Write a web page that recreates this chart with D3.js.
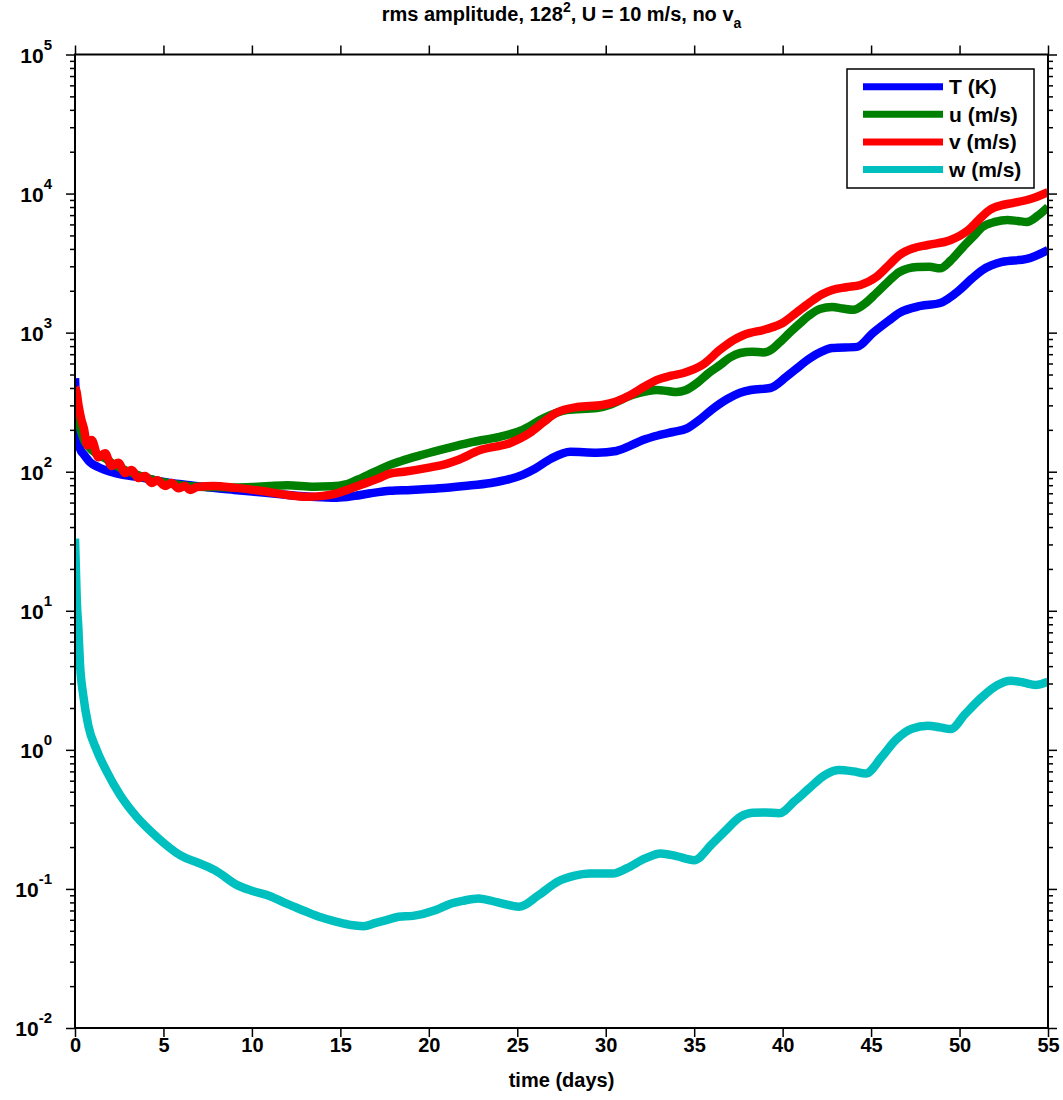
<!DOCTYPE html>
<html><head><meta charset="utf-8">
<script src="https://cdn.jsdelivr.net/npm/d3@7"></script>
<style>
body{margin:0;background:#fff}
text{font-family:"Liberation Sans",Arial,Helvetica,sans-serif;font-weight:bold;fill:#000}
</style>
</head><body>
<svg id="chart" width="1063" height="1100"></svg>
<script>
// ---------------- data ----------------
const timeT = [0,0.05,0.1,0.18,0.3,0.5,0.85,1.3,2.0,2.7,3.5,4.5,5.4,6.5,7.6,9.0,10.0,11.5,12.9,14.0,14.8,15.8,16.7,17.8,19.0,20.6,22.0,23.5,24.5,25.3,26.0,26.9,28.0,29.5,30.6,31.3,32.1,33.0,33.8,34.6,35.3,36.0,36.9,37.6,38.2,39.3,40.2,41.0,41.5,42.2,42.8,44.2,45.1,46.0,46.6,47.8,48.9,50.0,50.7,51.3,52.4,53.8,55.0];
const ampT  = [470,330,230,170,145,133,117,108,100,95,92,87,83,80,77,74,72,69,66.5,65.5,65,67,70,73,74,76,79,83,88,95,105,124,139,137,141,152,169,183,193,205,236,280,335,370,387,400,480,580,650,730,776,790,995,1220,1387,1556,1635,2027,2450,2824,3224,3388,3930];

const timeU = [0,0.1,0.25,0.5,0.8,1.2,1.7,2.2,2.8,3.5,4.3,5.0,6.0,7.0,8.0,9.0,10.0,11.0,12.0,13.5,14.5,15.3,16.0,16.8,17.8,18.4,19.5,20.6,21.5,22.5,24.0,25.3,26.5,27.8,29.5,30.2,31.5,32.3,32.9,33.5,34.0,34.5,35.2,35.8,36.5,37.0,37.6,38.3,38.9,39.4,39.8,40.4,41.0,41.5,42.1,42.8,43.4,44.0,44.6,45.3,46.0,46.6,47.6,48.3,48.9,49.5,50.2,50.8,51.3,52.0,52.7,53.3,53.8,54.4,55.0];
const ampU  = [330,300,220,170,150,135,125,113,103,95,88,84,80,78,77.5,77,77.6,79,80,78,78.5,81,88,98,112,119,131,143,153,164,178,200,243,278,287,302,356,378,387,380,374,385,438,510,590,660,714,730,720,760,843,1000,1173,1330,1480,1530,1490,1460,1600,1928,2350,2730,2965,2980,2900,3300,4130,4950,5750,6250,6460,6350,6250,6900,8000];

const timeV = [0,0.08,0.2,0.35,0.5,0.7,0.94,1.32,1.70,2.07,2.45,2.83,3.2,3.58,3.96,4.33,4.65,5.09,5.46,5.84,6.22,6.5,6.9,7.8,9.1,10.6,12.0,13.1,14.0,14.8,16.1,17.2,17.8,18.6,20.0,21.0,21.6,22.9,24.6,25.7,26.5,27.2,28.4,29.8,30.6,31.4,32.2,32.9,33.7,34.4,35.5,36.5,37.2,37.8,39.1,40.0,40.8,41.5,42.2,42.8,43.6,44.4,45.3,46.0,46.6,47.4,48.2,49.5,50.5,51.1,51.7,52.4,53.0,54.0,55.0];
const ampV  = [400,380,300,240,205,155,169,127,136,110,116,98,103,90,93,83,87,79,83,76,79,74,77.6,79,76.5,72.6,68,66,67,70,80,90,97,100,107,114,121,143,161,190,228,265,292,302,320,356,410,457,490,513,590,760,880,962,1062,1173,1400,1635,1880,2027,2120,2203,2514,3050,3614,4050,4266,4634,5470,6500,7620,8250,8550,9140,10260];

const timeW = [0,0.05,0.1,0.19,0.28,0.47,0.75,1.22,1.79,2.54,3.48,4.62,5.94,7.25,8.0,9.14,10.0,11.0,12.0,12.9,13.8,14.8,15.6,16.3,17.0,17.6,18.3,19.1,20.4,21.2,21.9,22.8,23.9,25.1,26.2,27.3,28.2,29.1,30.4,31.2,32.2,33.1,34.0,35.0,36.0,36.8,37.6,38.3,39.0,39.8,40.7,41.5,42.4,43.2,44.0,44.7,45.6,46.4,47.3,48.2,48.9,49.5,50.3,51.2,52.1,52.9,53.6,54.3,55.0];
const ampW  = [33,20,12,7.5,4.2,2.45,1.5,1.0,0.70,0.475,0.33,0.237,0.175,0.149,0.134,0.107,0.097,0.089,0.078,0.07,0.063,0.058,0.055,0.054,0.057,0.0597,0.063,0.064,0.0705,0.078,0.082,0.0855,0.08,0.0745,0.09,0.113,0.124,0.129,0.129,0.141,0.165,0.180,0.172,0.161,0.21,0.265,0.33,0.353,0.355,0.35,0.43,0.529,0.66,0.716,0.70,0.677,0.89,1.18,1.42,1.49,1.45,1.41,1.8,2.35,2.9,3.14,3.05,2.93,3.09];

const seriesNames  = ["T (K)","u (m/s)","v (m/s)","w (m/s)"];
const seriesColors = ["#0000ff","#008000","#ff0000","#00bfbf"];
const xTickValues  = [0,5,10,15,20,25,30,35,40,45,50,55];
const yTickExponents = [-2,-1,0,1,2,3,4,5];
const xLabel = "time (days)";

// ---------------- layout ----------------
const L = 75, R = 1048, T = 54.5, B = 1028;
const svg = d3.select("#chart");
svg.append("rect").attr("width",1063).attr("height",1100).attr("fill","#fff");

const x = d3.scaleLinear().domain([0,55]).range([L,R]);
const y = d3.scaleLog().domain([1e-2,1e5]).range([B,T]);

svg.append("defs").append("clipPath").attr("id","clip")
  .append("rect").attr("x",L).attr("y",T).attr("width",R-L).attr("height",B-T);

const series = [
  {t:timeT, v:ampT}, {t:timeU, v:ampU}, {t:timeV, v:ampV}, {t:timeW, v:ampW}
];
const line = d3.line().x(d=>x(d[0])).y(d=>y(d[1])).curve(d3.curveMonotoneX);
const g = svg.append("g").attr("clip-path","url(#clip)");
series.forEach((s,i)=>{
  g.append("path").datum(s.t.map((tt,k)=>[tt,s.v[k]]))
    .attr("d",line).attr("fill","none")
    .attr("stroke",seriesColors[i]).attr("stroke-width",8.5)
    .attr("stroke-linejoin","round");
});

// ---------------- axes ----------------
const minorVals = [];
for (let e=-2;e<5;e++) for (let m=2;m<=9;m++) minorVals.push(m*Math.pow(10,e));
const majorVals = yTickExponents.map(e=>Math.pow(10,e));

function styleAxis(sel){
  sel.select(".domain").remove();
  sel.selectAll(".tick line").attr("stroke","#000").attr("stroke-width",1.5);
}
// x bottom
svg.append("g").attr("transform",`translate(0,${B})`)
  .call(d3.axisBottom(x).tickValues(xTickValues).tickSize(9).tickPadding(1).tickFormat(d3.format("d")))
  .call(styleAxis)
  .call(a=>a.selectAll("text").attr("font-size",20).attr("font-family",null));
// x top
svg.append("g").attr("transform",`translate(0,${T})`)
  .call(d3.axisTop(x).tickValues(xTickValues).tickSize(9).tickFormat(""))
  .call(styleAxis);
// y left / right major & minor
[[d3.axisLeft,L],[d3.axisRight,R]].forEach(([ax,pos])=>{
  svg.append("g").attr("transform",`translate(${pos},0)`)
    .call(ax(y).tickValues(majorVals).tickSize(9).tickFormat(""))
    .call(styleAxis);
  svg.append("g").attr("transform",`translate(${pos},0)`)
    .call(ax(y).tickValues(minorVals).tickSize(5).tickFormat(""))
    .call(styleAxis);
});
// box
svg.append("rect").attr("x",L).attr("y",T).attr("width",R-L).attr("height",B-T)
  .attr("fill","none").attr("stroke","#000").attr("stroke-width",2);

// y tick labels 10^e
yTickExponents.forEach(e=>{
  const tx = svg.append("text").attr("x",52).attr("y",y(Math.pow(10,e))+8)
    .attr("text-anchor","end").attr("font-size",21);
  tx.append("tspan").text("10");
  tx.append("tspan").attr("dy",-13).attr("font-size",15).text(String(e));
});

// x label
svg.append("text").attr("x",(L+R)/2).attr("y",1087).attr("text-anchor","middle")
  .attr("font-size",20).text(xLabel);

// title
const title = svg.append("text").attr("x",(L+R)/2).attr("y",21).attr("text-anchor","middle").attr("font-size",20);
title.append("tspan").text("rms amplitude, 128");
title.append("tspan").attr("dy",-9).attr("font-size",14).text("2");
title.append("tspan").attr("dy",9).text(", U = 10 m/s, no v");
title.append("tspan").attr("dy",7).attr("font-size",14).text("a");

// legend
const lg = svg.append("g");
lg.append("rect").attr("x",847).attr("y",69).attr("width",187).attr("height",119)
  .attr("fill","#fff").attr("stroke","#000").attr("stroke-width",1.5);
seriesNames.forEach((n,i)=>{
  const yy = 86.7 + i*27.6;
  lg.append("line").attr("x1",863).attr("x2",943).attr("y1",yy).attr("y2",yy)
    .attr("stroke",seriesColors[i]).attr("stroke-width",7);
  lg.append("text").attr("x",949).attr("y",yy+7.5).attr("font-size",21).text(n);
});
</script>
</body></html>
